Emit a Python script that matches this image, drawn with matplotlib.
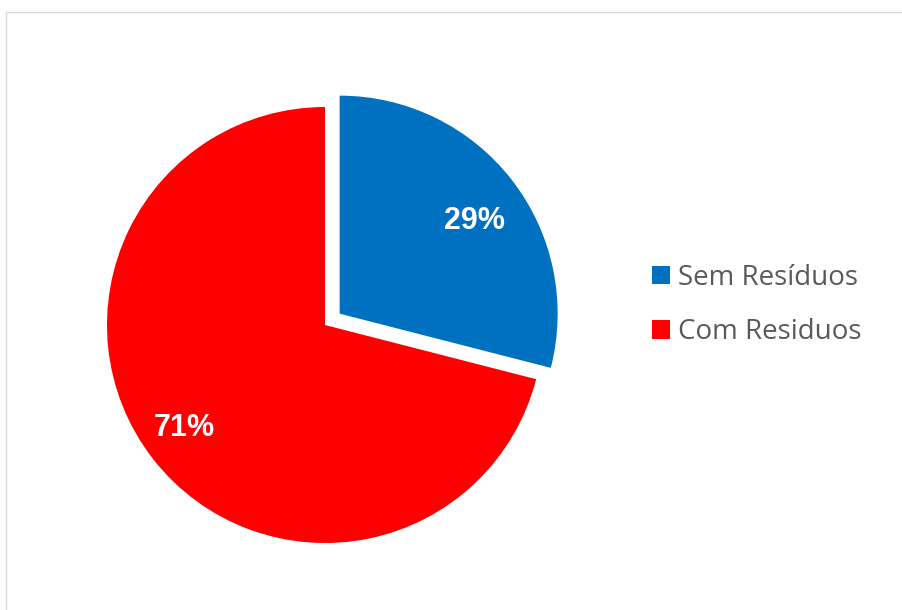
import numpy as np
import matplotlib.pyplot as plt
from matplotlib.patches import Rectangle

categories = ["Sem Resíduos", "Com Residuos"]
shares = [29, 71]
colors = ["#0070C0", "#FF0000"]

W, H = 902, 610
fig = plt.figure(figsize=(W / 100, H / 100), dpi=100)
fig.patch.set_facecolor("white")

# light chart-area border (open on the right and bottom)
fig.patches.append(Rectangle((6 / W, -0.1), 1.0, (H - 12) / H + 0.1,
                             transform=fig.transFigure, fill=False,
                             edgecolor="#d9d9d9", lw=1.0, figure=fig))

# pie axes placed in pixel terms
R = 218
cx, cy = 325, 325
half = 260
ax = fig.add_axes([(cx - half) / W, (H - cy - half) / H, 2 * half / W, 2 * half / H])
explode = [0.085, 0]
wedges, texts, autotexts = ax.pie(
    shares, colors=colors, startangle=90, counterclock=False,
    explode=explode, radius=1,
    autopct=lambda p: f"{p:.0f}%", pctdistance=0.78,
    textprops=dict(color="white", fontsize=22, fontweight="bold",
                   family="Liberation Sans"),
)

# per-wedge label placement: radial distance and clockwise angular shift
label_r = [0.753, 0.80]
label_shift = [3.3, 1.4]
for w, t, ex, r, sh in zip(wedges, autotexts, explode, label_r, label_shift):
    mid = np.deg2rad((w.theta1 + w.theta2) / 2)
    ang = mid - np.deg2rad(sh)
    ox, oy = ex * np.cos(mid), ex * np.sin(mid)
    t.set_position((ox + r * np.cos(ang), oy + r * np.sin(ang)))

ax.set_xlim(-half / R, half / R)
ax.set_ylim(-half / R, half / R)
ax.axis("off")

fig.legend(wedges, categories, loc="center left",
           bbox_to_anchor=(652 / W, (H - 305) / H), frameon=False,
           prop=dict(family="Open Sans", size=20),
           labelcolor="#595959", handlelength=0.65, handleheight=0.65,
           handletextpad=0.3, labelspacing=0.95, borderpad=0, borderaxespad=0)

fig.savefig("out.png", dpi=100, facecolor="white")
